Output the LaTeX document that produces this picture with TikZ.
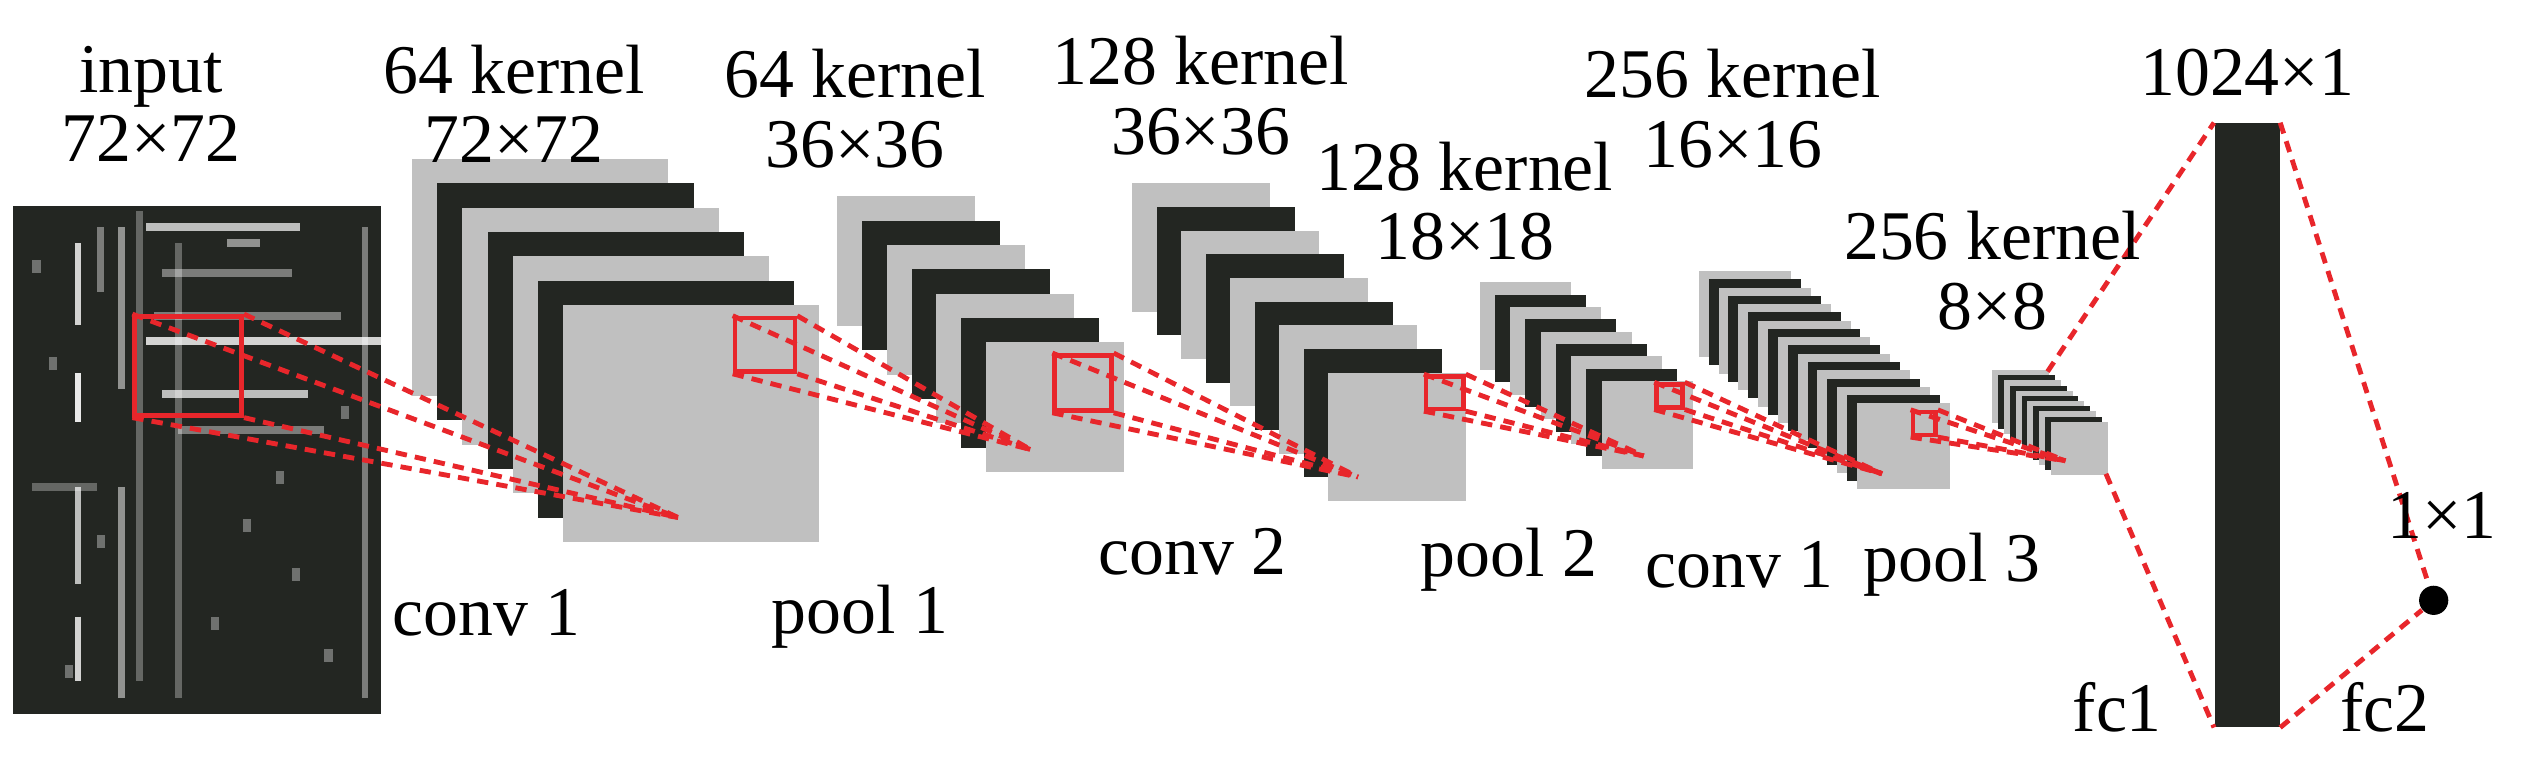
\documentclass[tikz,border=0pt]{standalone}
\usepackage{fontspec}
\newfontfamily\serf{Liberation Serif}
\definecolor{lg}{HTML}{C0C0C0}
\definecolor{dk}{HTML}{232622}
\definecolor{rd}{HTML}{E8262B}
\newcommand\lstack[7]{%
  \foreach \i in {0,...,#7}{%
    \ifodd\i\def\cc{dk}\else\def\cc{lg}\fi
    \fill[\cc] ({#1+\i*#5},{#2+\i*#6}) rectangle ++(#3,#4);
  }}
\begin{document}
\begin{tikzpicture}[x=0.5pt,y=-0.5pt,
  lbl/.style={font=\serf\fontsize{21.5}{21.5}\selectfont, align=center, inner sep=0},
  rbox/.style={draw=rd, line width=1.4pt, inner sep=0},
  dl/.style={draw=rd, line width=1.5pt, dash pattern=on 3.5pt off 2.5pt}]
\useasboundingbox (0,0) rectangle (1568,468);
% input image
\fill[dk] (8,127) rectangle (235,440);
\foreach \x/\a/\b/\o in {48/150/200/0.8,48/230/260/0.9,48/300/360/0.7,48/380/420/0.8,62/140/180/0.4,75/140/240/0.5,75/300/430/0.5,86/130/420/0.3,110/150/430/0.3,225/140/430/0.4}
  \draw[white, opacity=\o, line width=2pt] (\x,\a) -- (\x,\b);
\foreach \y/\a/\b/\o in {140/90/185/0.7,168/100/180/0.4,195/95/210/0.4,210/90/235/0.8,243/100/190/0.7,265/110/200/0.4,150/140/160/0.5,300/20/60/0.3}
  \draw[white, opacity=\o, line width=2.5pt] (\a,\y) -- (\b,\y);
\foreach \x/\y in {20/160,30/220,150/320,180/350,200/400,40/410,130/380,170/290,60/330,210/250}
  \fill[white, opacity=0.35] (\x,\y) rectangle ++(5,8);
% stacks
\lstack{254}{98}{158}{146}{15.5}{15}{6}
\lstack{516}{121}{85}{80}{15.3}{15}{6}
\lstack{698}{113}{85}{79}{15.1}{14.6}{8}
\lstack{912}{174}{56}{54}{9.4}{7.6}{8}
\lstack{1047}{167}{57}{53}{6.1}{5.1}{16}
\lstack{1228}{228}{35}{33}{3.6}{3.2}{10}
% red boxes
\node[rbox, minimum width=33pt, minimum height=30.5pt] (r0) at (116,225.5) {};
\node[rbox, minimum width=18.5pt, minimum height=16.5pt] (r1) at (471.5,212.5) {};
\node[rbox, minimum width=17.5pt, minimum height=17pt] (r2) at (667.5,236) {};
\node[rbox, minimum width=11.5pt, minimum height=10pt] (r3) at (890.5,242) {};
\node[rbox, minimum width=8pt, minimum height=7pt] (r4) at (1029,244) {};
\node[rbox, minimum width=7pt, minimum height=7pt] (r5) at (1186,261) {};
\coordinate (p1) at (418,319);
\coordinate (p2) at (635,277);
\coordinate (p3) at (837,294);
\coordinate (p4) at (1013,281);
\coordinate (p5) at (1160,292);
\coordinate (p6) at (1273,284);
\foreach \r/\p in {r0/p1,r1/p2,r2/p3,r3/p4,r4/p5,r5/p6}
  \foreach \c in {north west,north east,south west,south east}
    \draw[dl] (\r.\c) -- (\p);
% fc
\node[fill=dk, minimum width=20pt, minimum height=186pt, inner sep=0] (fc) at (1385,262) {};
\coordinate (pt) at (1262,229);
\coordinate (pb) at (1298,292);
\node[circle, fill=black, minimum size=9pt, inner sep=0] (dot) at (1500,370) {};
\draw[dl] (pt) -- (fc.north west);
\draw[dl] (pb) -- (fc.south west);
\draw[dl] (fc.north east) -- (dot);
\draw[dl] (fc.south east) -- (dot);
% labels
\node[lbl] (t0) at (93,64) {input\\72×72};
\node[lbl] (t1) at (317,64) {64 kernel\\72×72};
\node[lbl] (t2) at (527,67) {64 kernel\\36×36};
\node[lbl] (t3) at (740,59) {128 kernel\\36×36};
\node[lbl] (t4) at (903,124) {128 kernel\\18×18};
\node[lbl] (t5) at (1068,67) {256 kernel\\16×16};
\node[lbl] (t6) at (1228,167) {256 kernel\\8×8};
\node[lbl] (t7) at (1385,45) {1024×1};
\node[lbl] (t8) at (1505,318) {1×1};
\node[lbl] (b1) at (300,378) {conv 1};
\node[lbl] (b2) at (530,380) {pool 1};
\node[lbl] (b3) at (735,340) {conv 2};
\node[lbl] (b4) at (930,345) {pool 2};
\node[lbl] (b5) at (1072,348) {conv 1};
\node[lbl] (b6) at (1203,348) {pool 3};
\node[lbl] (b7) at (1305,436) {fc1};
\node[lbl] (b8) at (1470,436) {fc2};
\end{tikzpicture}
\end{document}
